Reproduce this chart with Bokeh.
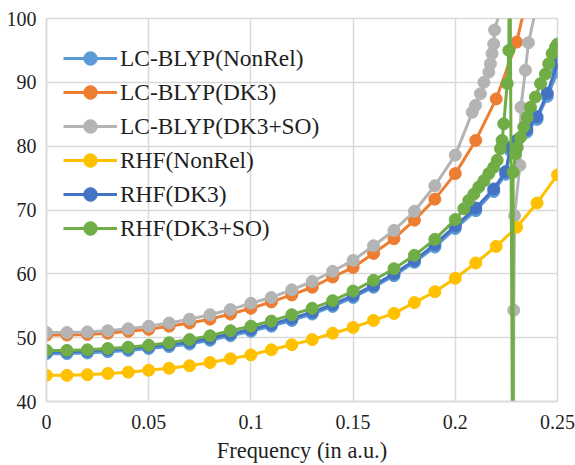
from bokeh.plotting import figure
from bokeh.models import ColumnDataSource, Legend, LegendItem, FixedTicker, Range1d, NumeralTickFormatter
from bokeh.embed import file_html
from bokeh.resources import INLINE

nan = float("nan")

freq_base = [0.00, 0.01, 0.02, 0.03, 0.04, 0.05, 0.06, 0.07, 0.08, 0.09, 0.10,
             0.11, 0.12, 0.13, 0.14, 0.15, 0.16, 0.17, 0.18, 0.19, 0.20]

# LC-BLYP(NonRel)
lcnr_x = freq_base + [0.21, 0.2188, 0.2246, 0.2270, 0.2300, 0.2350, 0.2400, 0.2450, 0.2500]
lcnr_y = [47.5, 47.5, 47.6, 47.8, 48.0, 48.3, 48.6, 49.0, 49.6, 50.3, 51.0,
          51.8, 52.7, 53.7, 54.9, 56.3, 57.9, 59.7, 61.8, 64.2, 67.1,
          69.9, 72.9, 75.6, 79.3, 80.5, 82.2, 84.2, 87.8, 91.6]

# LC-BLYP(DK3)
lcdk_x = freq_base + [0.21, 0.22, 0.23, 0.24]
lcdk_y = [50.4, 50.4, 50.5, 50.7, 51.0, 51.3, 51.8, 52.3, 52.9, 53.7, 54.6,
          55.6, 56.7, 57.9, 59.5, 61.0, 63.2, 65.5, 68.4, 71.7, 75.7,
          80.9, 87.4, 96.3, 110.0]

# LC-BLYP(DK3+SO)
lcso_x = freq_base + [0.2083, 0.2099, 0.2123, 0.2140, 0.2164, 0.2172, 0.2180, 0.2188, 0.2192, 0.2235,
                      nan, 0.2285, 0.2286, 0.2290, 0.2316, 0.2321, 0.2343, 0.2358, 0.2400]
lcso_y = [50.8, 50.8, 50.9, 51.1, 51.4, 51.8, 52.3, 52.9, 53.6, 54.4, 55.4,
          56.3, 57.5, 58.8, 60.4, 62.1, 64.4, 66.8, 69.8, 73.8, 78.6,
          85.3, 86.4, 88.2, 90.0, 91.6, 92.9, 94.5, 96.0, 98.2, 103.0,
          nan, 20.0, 54.3, 69.1, 77.0, 86.1, 91.9, 96.2, 102.3]

# RHF(NonRel)
rhnr_x = freq_base + [0.21, 0.22, 0.23, 0.24, 0.25]
rhnr_y = [44.1, 44.1, 44.2, 44.4, 44.6, 44.9, 45.2, 45.6, 46.1, 46.7, 47.3,
          48.1, 48.9, 49.7, 50.7, 51.6, 52.7, 53.8, 55.5, 57.2, 59.3,
          61.7, 64.3, 67.3, 71.1, 75.5]

# RHF(DK3)
rhdk_x = freq_base + [0.21, 0.2188, 0.2246, 0.2270, 0.2300, 0.2350, 0.2400, 0.2450, 0.2500]
rhdk_y = [47.8, 47.8, 47.9, 48.1, 48.3, 48.6, 48.9, 49.3, 49.9, 50.6, 51.3,
          52.1, 53.0, 54.0, 55.2, 56.6, 58.2, 60.0, 62.1, 64.6, 67.5,
          70.3, 73.3, 76.0, 79.8, 80.9, 82.6, 84.6, 88.3, 93.0]

# RHF(DK3+SO)
rhso_x = freq_base + [0.2042, 0.2066, 0.2091, 0.2115, 0.2140, 0.2164, 0.2188, 0.2205, 0.2221, 0.2229,
                      0.2237, 0.2254, 0.2262, 0.2266, 0.2282, 0.2283, 0.2295, 0.2303, 0.2319, 0.2335,
                      0.2352, 0.2368, 0.2392, 0.2417, 0.2441, 0.2457, 0.2474, 0.2490, 0.2500]
rhso_y = [48.0, 48.0, 48.1, 48.3, 48.5, 48.8, 49.2, 49.7, 50.3, 51.1, 51.8,
          52.6, 53.6, 54.6, 55.8, 57.3, 59.0, 60.8, 62.9, 65.4, 68.5,
          70.2, 71.5, 72.5, 73.6, 74.6, 75.7, 76.7, 77.8, 79.6, 80.9,
          83.5, 89.8, 95.0, 120.0, 20.0, 75.9, 78.8, 79.8, 81.4, 83.0,
          84.5, 86.1, 87.7, 89.8, 91.3, 92.9, 94.5, 95.5, 96.0]

labels = ["LC-BLYP(NonRel)", "LC-BLYP(DK3)", "LC-BLYP(DK3+SO)",
          "RHF(NonRel)", "RHF(DK3)", "RHF(DK3+SO)"]
colors = ["#5B9BD5", "#ED7D31", "#B4B4B4", "#FFC000", "#4472C4", "#70AD47"]
series = [(lcnr_x, lcnr_y), (lcdk_x, lcdk_y), (lcso_x, lcso_y),
          (rhnr_x, rhnr_y), (rhdk_x, rhdk_y), (rhso_x, rhso_y)]

x_ticks = [0, 0.05, 0.1, 0.15, 0.2, 0.25]
y_ticks = [40, 50, 60, 70, 80, 90, 100]

FONT = "'Liberation Serif', 'Times New Roman', serif"
TXT = "#1f1f1f"
GRID = "#D9D9D9"

p = figure(width=575, height=465, output_backend="svg", toolbar_location=None,
           x_range=Range1d(0, 0.25), y_range=Range1d(40, 100),
           min_border_left=46, min_border_right=18, min_border_top=18, min_border_bottom=64)
p.background_fill_color = "white"
p.border_fill_color = "white"
p.outline_line_color = GRID
p.outline_line_width = 1.5

p.xaxis.ticker = FixedTicker(ticks=x_ticks)
p.yaxis.ticker = FixedTicker(ticks=y_ticks)
p.xaxis.formatter = NumeralTickFormatter(format="0.[00]")
for ax in (p.xaxis, p.yaxis):
    ax.axis_line_color = GRID
    ax.axis_line_width = 1.5
    ax.major_tick_line_color = None
    ax.minor_tick_line_color = None
    ax.major_label_text_font = FONT
    ax.major_label_text_font_size = "20px"
    ax.major_label_text_color = TXT
p.xaxis.major_label_standoff = 7
p.yaxis.major_label_standoff = 4
p.xaxis.axis_label = "Frequency (in a.u.)"
p.xaxis.axis_label_text_font = FONT
p.xaxis.axis_label_text_font_size = "22.4px"
p.xaxis.axis_label_text_font_style = "normal"
p.xaxis.axis_label_text_color = TXT
p.xaxis.axis_label_standoff = 6

for g in (p.xgrid, p.ygrid):
    g.grid_line_color = GRID
    g.grid_line_width = 1.5

items = []
for (xs, ys), lab, col in zip(series, labels, colors):
    src = ColumnDataSource(data=dict(x=xs, y=ys))
    lr = p.line("x", "y", source=src, line_color=col, line_width=3)
    sr = p.scatter("x", "y", source=src, size=12, marker="circle",
                   fill_color=col, line_color=col)
    items.append(LegendItem(label=lab, renderers=[lr, sr]))

legend = Legend(items=items, location=(17, 156))
legend.background_fill_alpha = 0
legend.border_line_color = None
legend.padding = 0
legend.margin = 0
legend.label_text_font = FONT
legend.label_text_font_size = "23.4px"
legend.label_text_color = TXT
legend.glyph_width = 54
legend.glyph_height = 34
legend.label_height = 34
legend.spacing = 0
legend.label_standoff = 3
p.add_layout(legend)

open("out.html", "w").write(file_html(p, INLINE))
